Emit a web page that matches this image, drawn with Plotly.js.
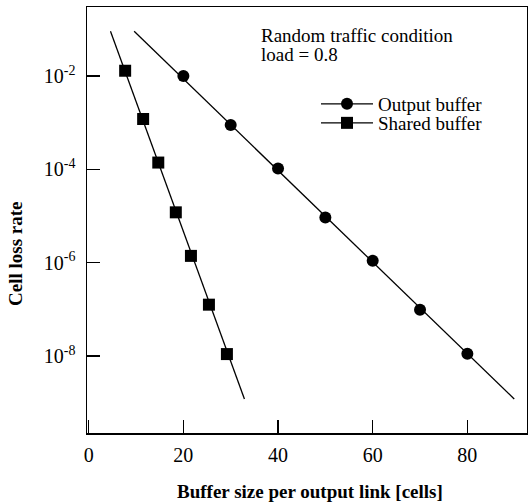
<!DOCTYPE html>
<html>
<head>
<meta charset="utf-8">
<script src="https://cdn.plot.ly/plotly-3.0.1.min.js"></script>
<style>html,body{margin:0;padding:0;background:#fff;}#chart{width:528px;height:502px;}</style>
</head>
<body>
<div id="chart"></div>
<script>
// Output buffer data
const outputX = [20, 30, 40, 50, 60, 70, 80];
const outputY = [1.0e-2, 8.9e-4, 1.05e-4, 9.3e-6, 1.1e-6, 9.8e-8, 1.12e-8];
// Shared buffer data
const sharedX = [7.7, 11.5, 14.7, 18.4, 21.6, 25.4, 29.2];
const sharedY = [1.3e-2, 1.2e-3, 1.4e-4, 1.2e-5, 1.4e-6, 1.26e-7, 1.1e-8];
// fitted lines (end points)
const outputFitX = [9.6, 89.9];
const outputFitY = [9.1e-2, 1.2e-9];
const sharedFitX = [4.6, 32.9];
const sharedFitY = [9.1e-2, 1.2e-9];
// ticks
const xTicks = [0, 20, 40, 60, 80];
const yTickVals = [1e-2, 1e-4, 1e-6, 1e-8];
const yTickText = ['10<sup>-2</sup>', '10<sup>-4</sup>', '10<sup>-6</sup>', '10<sup>-8</sup>'];
const seriesNames = ['Output buffer', 'Shared buffer'];

const serif = 'Liberation Serif, Times New Roman, serif';
const lineStyle = {color: '#000', width: 1.3};

const traces = [
  {x: outputFitX, y: outputFitY, mode: 'lines', line: lineStyle, showlegend: false, hoverinfo: 'skip'},
  {x: sharedFitX, y: sharedFitY, mode: 'lines', line: lineStyle, showlegend: false, hoverinfo: 'skip'},
  {x: outputX, y: outputY, name: seriesNames[0], mode: 'markers', showlegend: false,
   marker: {symbol: 'circle', size: 12, color: '#000'}},
  {x: sharedX, y: sharedY, name: seriesNames[1], mode: 'markers', showlegend: false,
   marker: {symbol: 'square', size: 12, color: '#000'}},
  // legend entries
  {x: [null], y: [null], name: seriesNames[0], mode: 'lines+markers', legend: 'legend',
   line: lineStyle, marker: {symbol: 'circle', size: 12, color: '#000'}},
  {x: [null], y: [null], name: seriesNames[1], mode: 'lines+markers', legend: 'legend2',
   line: lineStyle, marker: {symbol: 'square', size: 12, color: '#000'}}
];

function px2x(p) { return (p - 87) / 440; }
function px2y(p) { return 1 - (p - 7) / 426; }

const legFont = {family: serif, size: 19, color: '#000'};
const layout = {
  width: 528, height: 502,
  margin: {l: 87, r: 1, t: 7, b: 69},
  paper_bgcolor: '#fff', plot_bgcolor: '#fff',
  font: {family: serif, size: 19, color: '#000'},
  showlegend: true,
  legend: {x: px2x(316), y: px2y(104), xanchor: 'left', yanchor: 'middle', bgcolor: 'rgba(0,0,0,0)',
           font: legFont, itemwidth: 52},
  legend2: {x: px2x(316), y: px2y(123), xanchor: 'left', yanchor: 'middle', bgcolor: 'rgba(0,0,0,0)',
           font: legFont, itemwidth: 52},
  xaxis: {
    range: [-0.36, 92.6], tickvals: xTicks, ticks: 'inside', ticklen: 13, tickwidth: 1.2, tickcolor: '#000',
    showline: true, mirror: true, linecolor: '#000', linewidth: 1.5, showgrid: false, zeroline: false,
    tickfont: {family: serif, size: 20, color: '#000'}, ticklabelstandoff: 3
  },
  yaxis: {
    type: 'log', range: [-9.65, -0.52], tickvals: yTickVals, ticktext: yTickText,
    ticks: 'inside', ticklen: 13, tickwidth: 1.2, tickcolor: '#000',
    showline: true, mirror: true, linecolor: '#000', linewidth: 1.5, showgrid: false, zeroline: false,
    tickfont: {family: serif, size: 20, color: '#000'}, ticklabelstandoff: 6
  },
  annotations: [
    {text: 'Random traffic condition', xref: 'paper', yref: 'paper',
     x: px2x(259), y: px2y(35), xanchor: 'left', yanchor: 'middle', align: 'left',
     showarrow: false, font: {family: serif, size: 19, color: '#000'}},
    {text: 'load = 0.8', xref: 'paper', yref: 'paper',
     x: px2x(259), y: px2y(54), xanchor: 'left', yanchor: 'middle', align: 'left',
     showarrow: false, font: {family: serif, size: 19, color: '#000'}},
    {text: '<b>Buffer size per output link [cells]</b>', xref: 'paper', yref: 'paper',
     x: px2x(310), y: px2y(491), xanchor: 'center', yanchor: 'middle',
     showarrow: false, font: {family: serif, size: 19, color: '#000'}},
    {text: '<b>Cell loss rate</b>', xref: 'paper', yref: 'paper', textangle: -90,
     x: px2x(15), y: px2y(254), xanchor: 'center', yanchor: 'middle',
     showarrow: false, font: {family: serif, size: 19, color: '#000'}}
  ]
};

Plotly.newPlot('chart', traces, layout, {displayModeBar: false, staticPlot: true});
</script>
</body>
</html>
